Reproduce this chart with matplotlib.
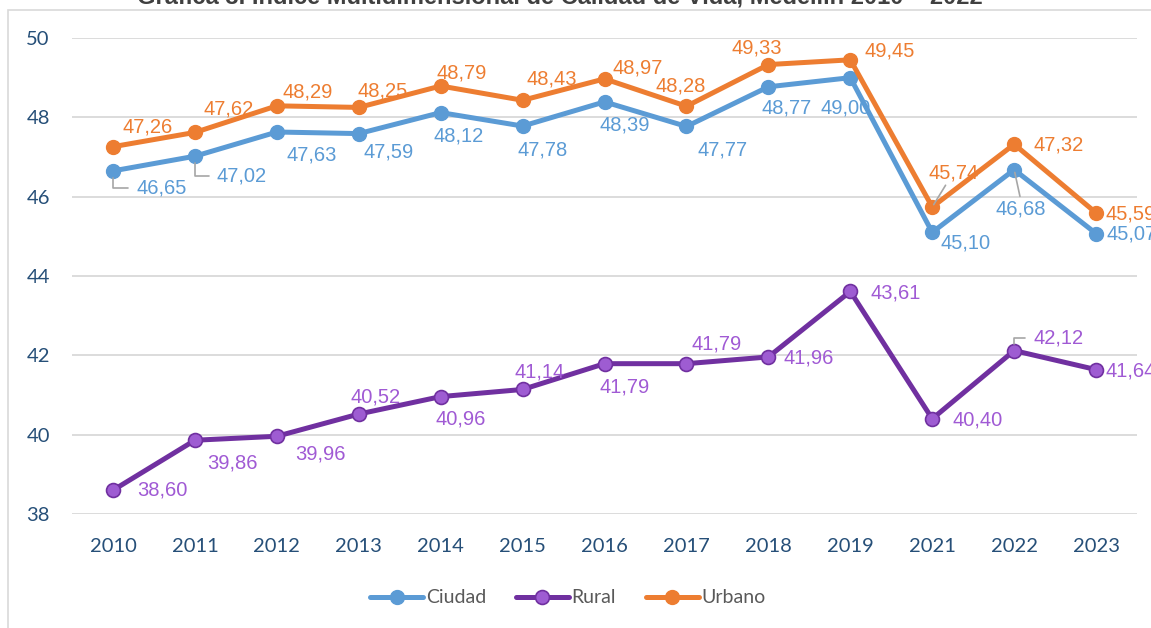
import numpy as np
import matplotlib
matplotlib.use('Agg')
from matplotlib import pyplot as plt
from matplotlib.patches import Rectangle

# data (2020 is not in the source)
years = ['2010', '2011', '2012', '2013', '2014', '2015', '2016',
         '2017', '2018', '2019', '2021', '2022', '2023']
ciudad = [46.65, 47.02, 47.63, 47.59, 48.12, 47.78, 48.39,
          47.77, 48.77, 49.00, 45.10, 46.68, 45.07]
rural = [38.60, 39.86, 39.96, 40.52, 40.96, 41.14, 41.79,
         41.79, 41.96, 43.61, 40.40, 42.12, 41.64]
urbano = [47.26, 47.62, 48.29, 48.25, 48.79, 48.43, 48.97,
          48.28, 49.33, 49.45, 45.74, 47.32, 45.59]
yticks = [38, 40, 42, 44, 46, 48, 50]

# label offsets in pixels (dx, dy) from each point
off_ciudad = [(49, -17), (47, -20), (35, -23), (30, -18), (18, -23), (20, -24), (20, -23),
              (36, -24), (18, -21), (-5, -30), (33, -11), (7, -39), (35, 0)]
off_urbano = [(35, 20), (34, 23), (31, 14), (24, 16), (21, 13), (29, 21), (33, 11),
              (-6, 20), (-12, 17), (39, 9), (21, 34), (44, -1), (35, -1)]
off_rural = [(49, 0), (38, -23), (44, -18), (17, 17), (20, -22), (17, 17), (20, -23),
             (30, 20), (40, -1), (45, -2), (45, -1), (44, 13), (35, -1)]

C_CIUDAD = '#5B9BD5'
C_URBANO = '#ED7D31'
C_RURAL = '#7030A0'
C_RURAL_FILL = '#9E5CD2'
C_RURAL_TXT = '#A05AD4'
C_LEADER = '#A6A6A6'
C_TICK = '#264F78'

fig = plt.figure(figsize=(11.51, 6.28), dpi=100)
ax = fig.add_axes([0.0626, 0.1815, 0.9253, 0.758])

# chart area border (cropped screenshot: only top and left edges show)
fig.patches.append(Rectangle((8 / 1151, -0.1), 1.2, 1 - 10 / 628 + 0.1,
                             transform=fig.transFigure, fill=False,
                             edgecolor='#D9D9D9', linewidth=1.2))

# title is cut by the top edge in the source
fig.text(0.4865, 1 - 4 / 628, 'Gráfica 3. Índice Multidimensional de Calidad de Vida, Medellín 2010 – 2022',
         ha='center', va='baseline', fontsize=17, fontweight='bold',
         color='#404040', family='Liberation Sans')

x = np.arange(len(years))

ax.plot(x, ciudad, color=C_CIUDAD, lw=3.6, marker='o', ms=10,
        solid_capstyle='round', label='Ciudad', zorder=3)
ax.plot(x, rural, color=C_RURAL, lw=3.6, marker='o', ms=10, mfc=C_RURAL_FILL,
        mec=C_RURAL, mew=1.2, solid_capstyle='round', label='Rural', zorder=3)
ax.plot(x, urbano, color=C_URBANO, lw=3.6, marker='o', ms=10,
        solid_capstyle='round', label='Urbano', zorder=4)

# labels that get a leader line
leaders = {('c', 0): 'L', ('c', 1): 'L', ('c', 11): 'D', ('u', 10): 'U2', ('r', 11): 'L'}


def label_series(key, vals, offs, color):
    for i, (v, (dx, dy)) in enumerate(zip(vals, offs)):
        txt = f'{v:.2f}'.replace('.', ',')
        kind = leaders.get((key, i))
        kw = {}
        if kind == 'L':
            kw['arrowprops'] = dict(arrowstyle='-', color=C_LEADER, lw=1.2, shrinkA=4, shrinkB=5,
                                    relpos=(0, 0.5),
                                    connectionstyle='angle,angleA=180,angleB=90,rad=0')
        elif kind == 'D':
            kw['arrowprops'] = dict(arrowstyle='-', color=C_LEADER, lw=1.2, shrinkA=0, shrinkB=2,
                                    relpos=(0.5, 0.85))
        elif kind == 'U2':
            kw['arrowprops'] = dict(arrowstyle='-', color=C_LEADER, lw=1.2, shrinkA=0, shrinkB=2,
                                    relpos=(0.45, 0.3))
        ax.annotate(txt, xy=(x[i], v), xytext=(dx, dy), textcoords='offset pixels',
                    ha='center', va='center', fontsize=14.5, color=color,
                    family='Liberation Sans', zorder=5, annotation_clip=False, **kw)


label_series('c', ciudad, off_ciudad, C_CIUDAD)
label_series('u', urbano, off_urbano, C_URBANO)
label_series('r', rural, off_rural, C_RURAL_TXT)

ax.set_xlim(-0.5, len(years) - 0.5)
ax.set_ylim(38, 50)
ax.set_xticks(x)
ax.set_xticklabels(years)
ax.set_yticks(yticks)
ax.grid(axis='y', color='#D9D9D9', lw=1.3)
ax.set_axisbelow(True)
for s in ax.spines.values():
    s.set_visible(False)
ax.tick_params(length=0, labelsize=14.5, labelcolor=C_TICK)
ax.tick_params(axis='y', pad=16)
ax.tick_params(axis='x', pad=17)
for t in ax.get_xticklabels() + ax.get_yticklabels():
    t.set_family('Lato')

leg = fig.legend(loc='center', bbox_to_anchor=(0.4935, 0.0478), ncol=3, frameon=False,
                 handlelength=2.7, handletextpad=0.15, columnspacing=1.55,
                 prop={'family': 'Lato', 'size': 14})
for t in leg.get_texts():
    t.set_color('#595959')

fig.savefig('out.png', dpi=100)
